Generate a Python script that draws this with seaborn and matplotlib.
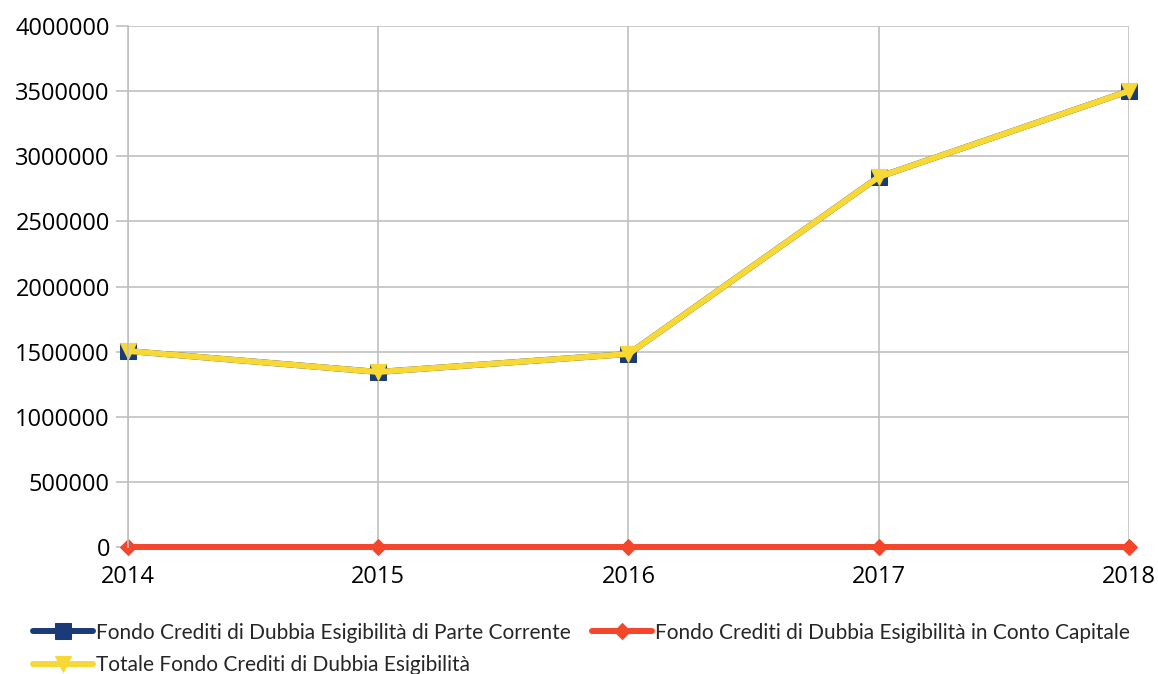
import numpy as np
import pandas as pd
import matplotlib
matplotlib.use('Agg')
import matplotlib.pyplot as plt
import seaborn as sns

# data
years = [2014, 2015, 2016, 2017, 2018]
parte_corrente = [1505000, 1344000, 1482000, 2841000, 3501000]
conto_capitale = [0, 0, 0, 0, 0]
totale = [a + b for a, b in zip(parte_corrente, conto_capitale)]

labels = ['Fondo Crediti di Dubbia Esigibilità di Parte Corrente',
          'Fondo Crediti di Dubbia Esigibilità in Conto Capitale',
          'Totale Fondo Crediti di Dubbia Esigibilità']
colors = ['#1b3a7a', '#f5452a', '#f7d835']
markers = ['s', 'D', 'v']
msizes = [11, 8, 12]

sns.set_theme(style='white')
plt.rcParams['font.family'] = ['Open Sans', 'DejaVu Sans']

fig = plt.figure(figsize=(11.58, 6.74), dpi=100)
ax = fig.add_axes([0.1105, 0.1884, 0.9749 - 0.1105, 0.9614 - 0.1884])

handles = []
for vals, lab, col, mk, ms in zip([parte_corrente, conto_capitale, totale],
                                  labels, colors, markers, msizes):
    sns.lineplot(x=years, y=vals, ax=ax, color=col, linewidth=4.3,
                 marker=mk, markersize=ms, markeredgecolor=col,
                 label=lab, legend=False)
    handles.append(ax.lines[-1])

ax.set_xlim(2014, 2018)
ax.set_ylim(0, 4000000)
ax.set_xticks(years)
ax.set_yticks(np.arange(0, 4000001, 500000))
ax.set_xticklabels([str(y) for y in years])
ax.set_yticklabels([str(int(v)) for v in np.arange(0, 4000001, 500000)])
ax.grid(True, color='#c0c0c0', linewidth=1.2)
for lin in ax.lines:
    lin.set_clip_on(False)
for s in ['top', 'right', 'bottom']:
    ax.spines[s].set_visible(False)
ax.spines['left'].set_color('#c0c0c0')
ax.spines['left'].set_linewidth(1.2)
ax.tick_params(axis='y', length=9, color='#c0c0c0', width=1.2, labelsize=17, pad=4, left=True)
ax.tick_params(axis='x', length=0, labelsize=17, pad=13)
for t in ax.get_xticklabels() + ax.get_yticklabels():
    t.set_color('black')

# legend: row 1 has items 1 & 2, row 2 has item 3
leg = fig.legend([handles[0], handles[2], handles[1]],
                 [labels[0], labels[2], labels[1]],
                 ncol=2, loc='lower left', bbox_to_anchor=(0.012, -0.03),
                 frameon=False, handlelength=2.9, handletextpad=0.15,
                 columnspacing=1.0, labelspacing=0.62,
                 prop={'family': ['Lato', 'DejaVu Sans'], 'size': 15})

fig.savefig('out.png', dpi=100)
